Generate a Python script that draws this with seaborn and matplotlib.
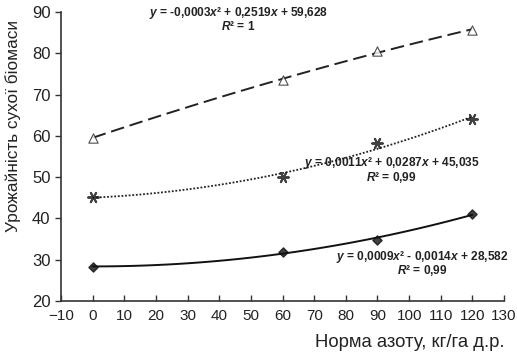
import numpy as np
import pandas as pd
import seaborn as sns
import matplotlib.pyplot as plt

# nitrogen rate, kg/ha a.i.
nitrogen = [0, 60, 90, 120]
# dry biomass yield for three series
yield_triangle = [59.6, 73.5, 80.6, 85.7]
yield_star = [45.2, 50.0, 58.2, 64.2]
yield_diamond = [28.3, 31.9, 34.8, 41.1]

eq_triangle = ["y = -0,0003x² + 0,2519x + 59,628", "R² = 1"]
eq_star = ["y = 0,0011x² + 0,0287x + 45,035", "R² = 0,99"]
eq_diamond = ["y = 0,0009x² - 0,0014x + 28,582", "R² = 0,99"]

x_ticks = list(range(-10, 131, 10))
y_ticks = list(range(20, 91, 10))

sns.set_style("ticks")
plt.rcParams["font.family"] = ["Liberation Sans", "DejaVu Sans"]
plt.rcParams["mathtext.fontset"] = "custom"
plt.rcParams["mathtext.bfit"] = "Liberation Sans:italic:bold"

df = pd.DataFrame({
    "n": nitrogen,
    "tri": yield_triangle,
    "star": yield_star,
    "dia": yield_diamond,
})

fig = plt.figure(figsize=(5.17, 3.57), dpi=100)
ax = fig.add_axes([0.118, 0.157, 0.857, 0.809])

sns.regplot(data=df, x="n", y="tri", order=2, ci=None, ax=ax,
            marker="^",
            scatter_kws=dict(s=45, facecolor="white", edgecolor="#222222", linewidths=0.8, zorder=3),
            line_kws=dict(color="#222222", lw=1.4, ls=(0, (7, 3)), zorder=2))
sns.regplot(data=df, x="n", y="star", order=2, ci=None, ax=ax,
            marker=(6, 2, 90),
            scatter_kws=dict(s=60, color="#111111", linewidths=1.4, zorder=3),
            line_kws=dict(color="#222222", lw=1.3, ls=(0, (1, 1)), zorder=2))
sns.regplot(data=df, x="n", y="dia", order=2, ci=None, ax=ax,
            marker="D",
            scatter_kws=dict(s=22, color="#111111", zorder=3),
            line_kws=dict(color="#111111", lw=1.4, zorder=2))

ax.set_xlim(-10, 130)
ax.set_ylim(20, 90)
ax.set_xticks(x_ticks)
ax.set_yticks(y_ticks)
ax.tick_params(labelsize=11, length=4, width=1, color="#333333", labelcolor="#222222")
ax.tick_params(axis="x", direction="in", pad=6)
ax.tick_params(axis="y", labelsize=12)
for s in ["left", "bottom"]:
    ax.spines[s].set_color("#333333")
    ax.spines[s].set_linewidth(1.2)
sns.despine(ax=ax)

ax.set_xlabel("Норма азоту, кг/га д.р.", fontsize=13.3, color="#222222")
ax.xaxis.set_label_coords(1.0, -0.115)
ax.xaxis.label.set_horizontalalignment("right")
ax.set_ylabel("Урожайність сухої біомаси", fontsize=12.4, color="#222222")
ax.yaxis.set_label_coords(-0.09, 0.605)


def equation(x, y, lines):
    eq, r2 = lines
    eq = eq.replace("y", r"$\mathbfit{y}$").replace("x", r"$\mathbfit{x}$")
    r2 = r2.replace("R", r"$\mathbfit{R}$")
    ax.text(x, y, eq, ha="center", va="center", fontsize=8.6, fontweight="bold",
            color="#222222")
    ax.text(x, y - 3.4, r2, ha="center", va="center", fontsize=8.6, fontweight="bold",
            color="#222222")


equation(46.1, 89.8, eq_triangle)
equation(94.4, 53.4, eq_star)
equation(104.2, 30.7, eq_diamond)

fig.savefig("out.png", dpi=100)
